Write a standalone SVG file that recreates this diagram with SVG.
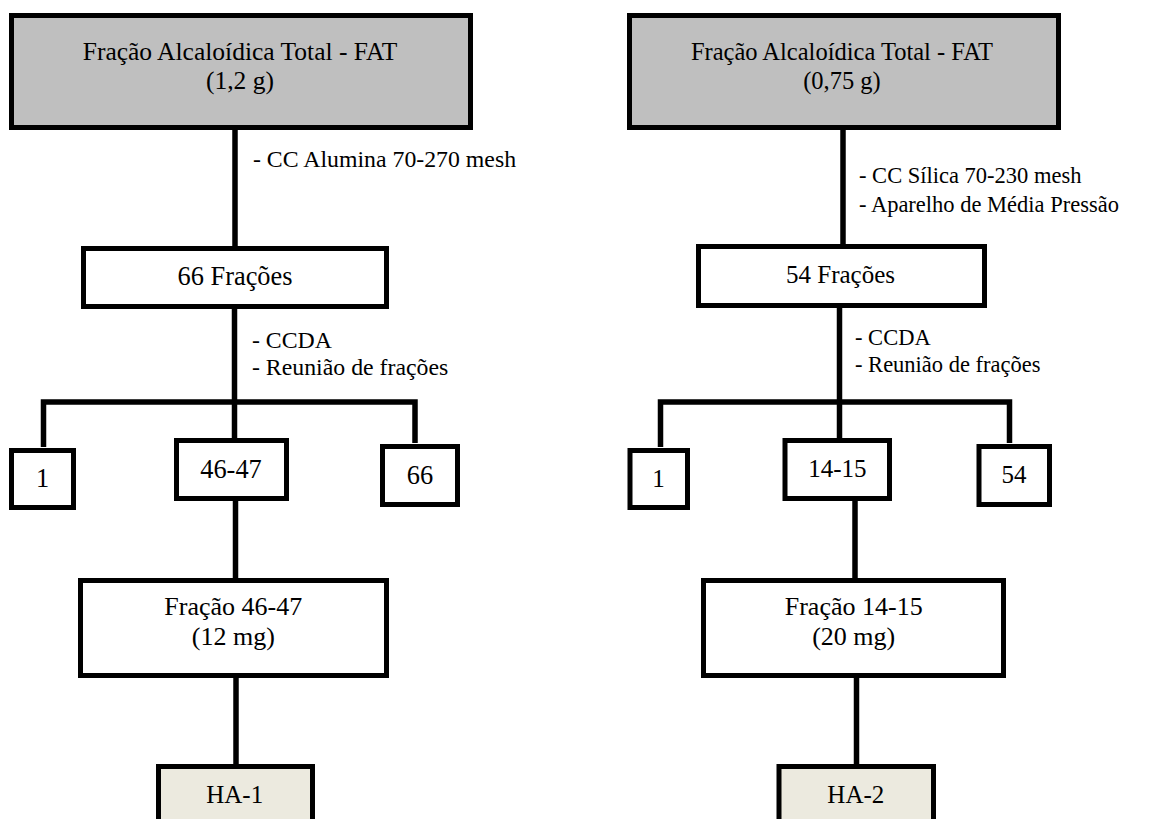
<svg xmlns="http://www.w3.org/2000/svg" width="1155" height="819" viewBox="0 0 1155 819">
<style>
text{font-family:"Liberation Serif","Times New Roman",serif;fill:#000;text-anchor:middle}
.lbl{text-anchor:start}
.box{fill:#fff;stroke:#000;stroke-width:5}
.top{fill:#bfbfbf;stroke:#000;stroke-width:5}
.res{fill:#eceadf;stroke:#000;stroke-width:5}
.con{fill:none;stroke:#000;stroke-width:5.5;stroke-linejoin:miter}
.L{font-size:26.4px}
.R{font-size:25px}
.T{font-size:25.5px}
.T2{font-size:24.5px}
.F{font-size:26px}
.lL{font-size:23.8px}
.lR{font-size:22.5px}
</style>
<rect width="1155" height="819" fill="#fff"/>
<g id="connectors">
<path class="con" d="M235 130V246"/>
<path class="con" d="M234.5 309V402"/>
<path class="con" d="M43.5 447V402H415V443"/>
<path class="con" d="M234.5 402V438"/>
<path class="con" d="M235.5 501V578"/>
<path class="con" d="M236 678V764"/>
<path class="con" d="M843 130V244"/>
<path class="con" d="M839.5 308V402"/>
<path class="con" d="M660.5 447V402H1009.5V443"/>
<path class="con" d="M839.5 402V438"/>
<path class="con" d="M855 501V578"/>
<path class="con" d="M856.5 678V764"/>
</g>
<g id="labels">
<text class="lbl lL" x="253" y="167">- CC Alumina 70-270 mesh</text>
<text class="lbl lL" x="252" y="348">- CCDA<tspan x="252" y="375">- Reunião de frações</tspan></text>
<text class="lbl lR" x="859" y="183">- CC Sílica 70-230 mesh<tspan x="859" y="211.5">- Aparelho de Média Pressão</tspan></text>
<text class="lbl lR" x="855" y="345">- CCDA<tspan x="855" y="371.5">- Reunião de frações</tspan></text>
</g>
<g id="fat1"><rect class="top" x="11.5" y="15.5" width="459" height="112"/>
<text class="T" x="240" y="60">Fração Alcaloídica Total - FAT<tspan x="240" y="89">(1,2 g)</tspan></text></g>
<g id="fat2"><rect class="top" x="629.5" y="15.5" width="429" height="112"/>
<text class="T2" x="842" y="60">Fração Alcaloídica Total - FAT<tspan x="842" y="89">(0,75 g)</tspan></text></g>
<g id="f66"><rect class="box" x="83.5" y="248.5" width="303" height="58"/>
<text class="L" x="235" y="285">66 Frações</text></g>
<g id="f54"><rect class="box" x="698.5" y="246.5" width="286" height="59"/>
<text class="R" x="840.5" y="283.3">54 Frações</text></g>
<g id="l1"><rect class="box" x="11.5" y="450.5" width="62" height="57"/>
<text class="L" x="42.5" y="487.3">1</text></g>
<g id="l4647"><rect class="box" x="176.5" y="440.5" width="110" height="58"/>
<text class="L" x="231" y="478.3">46-47</text></g>
<g id="l66"><rect class="box" x="382.5" y="446.5" width="75" height="58"/>
<text class="L" x="420" y="484">66</text></g>
<g id="r1"><rect class="box" x="630" y="450.5" width="57.5" height="57"/>
<text class="R" x="658.5" y="487.3">1</text></g>
<g id="r1415"><rect class="box" x="785" y="440.5" width="104.5" height="58"/>
<text class="R" x="837.3" y="477.3">14-15</text></g>
<g id="r54"><rect class="box" x="979" y="446.5" width="70.5" height="58"/>
<text class="R" x="1014" y="483.3">54</text></g>
<g id="frac4647"><rect class="box" x="80.5" y="580.5" width="306" height="95"/>
<text class="F" x="233.3" y="615">Fração 46-47<tspan x="233.3" y="645">(12 mg)</tspan></text></g>
<g id="frac1415"><rect class="box" x="703.5" y="580.5" width="300" height="95"/>
<text class="F" x="853.7" y="615">Fração 14-15<tspan x="853.7" y="645">(20 mg)</tspan></text></g>
<g id="ha1"><rect class="res" x="158.5" y="766.5" width="154" height="70"/>
<text class="R" x="234.7" y="803.3">HA-1</text></g>
<g id="ha2"><rect class="res" x="779" y="766.5" width="154.5" height="70"/>
<text class="R" x="855.8" y="803.3">HA-2</text></g>
</svg>
